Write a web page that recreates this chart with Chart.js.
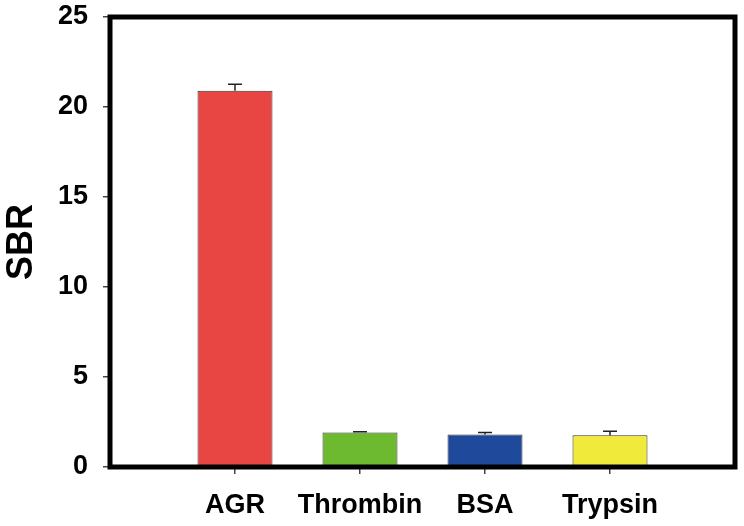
<!DOCTYPE html>
<html>
<head>
<meta charset="utf-8">
<script src="https://cdn.jsdelivr.net/npm/chart.js@4/dist/chart.umd.min.js"></script>
<style>
  html, body { margin: 0; padding: 0; background: #fff; }
  #wrap { width: 744px; height: 526px; }
</style>
</head>
<body>
<div id="wrap"><canvas id="chart"></canvas></div>
<script>
// Chart data (blank slots at each end keep the bars spaced like the original)
const categories = ['', 'AGR', 'Thrombin', 'BSA', 'Trypsin', ''];
const sbrValues = [null, 20.9, 1.91, 1.81, 1.76, null];
const sbrErrors = [null, 0.37, 0.05, 0.11, 0.22, null];
const barColors = ['#fff', '#E84642', '#6DB92F', '#1F4A9C', '#F0EA3A', '#fff'];
const yTicks = [0, 5, 10, 15, 20, 25];

const FONT = '"Liberation Sans", Arial, sans-serif';

// Upward error bars with caps
const errorBars = {
  id: 'errorBars',
  afterDatasetsDraw(chart) {
    const ctx = chart.ctx;
    const meta = chart.getDatasetMeta(0);
    const y = chart.scales.y;
    ctx.save();
    ctx.strokeStyle = '#222';
    ctx.lineWidth = 1.5;
    meta.data.forEach((bar, i) => {
      if (sbrValues[i] == null) return;
      const top = y.getPixelForValue(sbrValues[i] + sbrErrors[i]);
      ctx.beginPath();
      ctx.moveTo(bar.x, bar.y);
      ctx.lineTo(bar.x, top);
      ctx.moveTo(bar.x - 7, top);
      ctx.lineTo(bar.x + 7, top);
      ctx.stroke();
    });
    ctx.restore();
  }
};

// Thick frame around the plot
const frame = {
  id: 'frame',
  afterDraw(chart) {
    const { left, right, top, bottom } = chart.chartArea;
    const ctx = chart.ctx;
    ctx.save();
    ctx.strokeStyle = '#000';
    ctx.lineWidth = 5;
    ctx.strokeRect(left, top, right - left, bottom - top);
    ctx.restore();
  }
};

new Chart(document.getElementById('chart'), {
  type: 'bar',
  data: {
    labels: categories,
    datasets: [{
      data: sbrValues,
      backgroundColor: barColors,
      borderColor: '#333',
      borderWidth: 1,
      barPercentage: 0.6,
      categoryPercentage: 1
    }]
  },
  options: {
    responsive: true,
    maintainAspectRatio: false,
    animation: false,
    layout: { padding: { top: 17, right: 9, left: 0, bottom: 0 } },
    plugins: {
      legend: { display: false },
      tooltip: { enabled: false }
    },
    scales: {
      x: {
        offset: false,
        afterFit: s => { s.height = 59; s.paddingLeft = 0; s.paddingRight = 0; },
        grid: {
          offset: false,
          drawOnChartArea: false,
          tickLength: 7,
          color: c => (c.index === 0 || c.index === categories.length - 1) ? 'rgba(0,0,0,0)' : '#444',
          lineWidth: 1.5
        },
        border: { display: false },
        ticks: {
          color: '#000',
          padding: 15,
          autoSkip: false,
          maxRotation: 0,
          minRotation: 0,
          font: { family: FONT, size: 27, weight: 'bold' }
        }
      },
      y: {
        min: 0,
        max: 25,
        afterFit: s => { s.width = 110; s.paddingTop = 0; s.paddingBottom = 0; },
        afterBuildTicks: s => { s.ticks = yTicks.map(v => ({ value: v })); },
        grid: {
          drawOnChartArea: false,
          tickLength: 7,
          color: '#444',
          lineWidth: 1.5
        },
        border: { display: false },
        ticks: {
          color: '#000',
          padding: 15,
          font: { family: FONT, size: 27, weight: 'bold' }
        },
        title: {
          display: true,
          text: 'SBR',
          color: '#000',
          padding: 0,
          font: { family: FONT, size: 36, weight: 'bold' }
        }
      }
    }
  },
  plugins: [errorBars, frame]
});
</script>
</body>
</html>
